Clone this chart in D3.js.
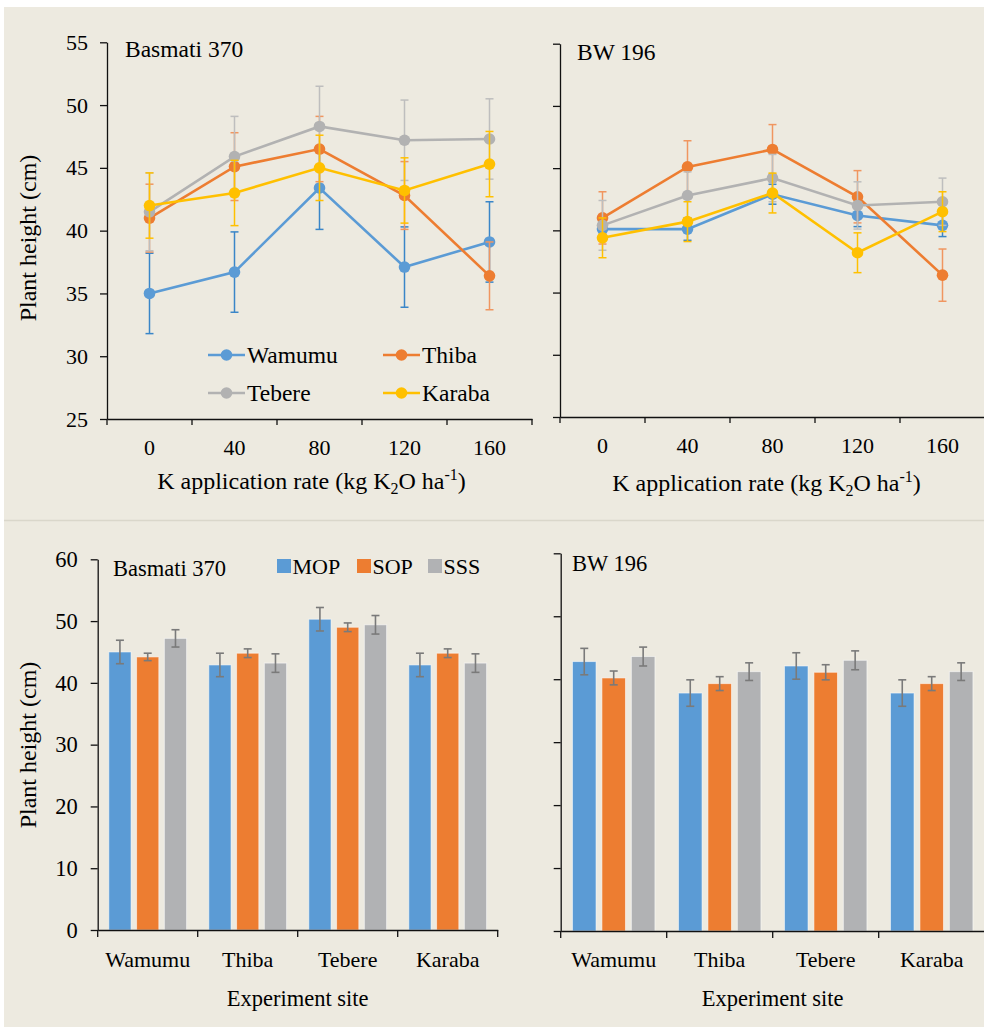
<!DOCTYPE html>
<html>
<head>
<meta charset="utf-8">
<script src="https://cdn.jsdelivr.net/npm/d3@7"></script>
<style>
  body { margin: 0; background: #fff; }
  text { font-family: "Liberation Serif", "Times New Roman", serif; fill: #000; }
</style>
</head>
<body>
<svg id="chart" width="984" height="1027"></svg>
<script>
// categories
const rates = ['0', '40', '80', '120', '160']
const sites = ['Wamumu', 'Thiba', 'Tebere', 'Karaba']
const fertilizers = ['MOP', 'SOP', 'SSS']
const yTicksTop = [25, 30, 35, 40, 45, 50, 55]
const yTicksBottom = [0, 10, 20, 30, 40, 50, 60]

// Basmati 370, plant height by K rate (cm) and error
const basWamumu = [35.0, 36.7, 43.4, 37.1, 39.1]
const basWamumuErr = [3.2, 3.2, 3.3, 3.2, 3.2]
const basThiba = [41.0, 45.1, 46.5, 42.8, 36.4]
const basThibaErr = [2.7, 2.7, 2.6, 2.7, 2.7]
const basTebere = [41.5, 45.9, 48.3, 47.2, 47.3]
const basTebereErr = [3.1, 3.2, 3.2, 3.2, 3.2]
const basKaraba = [42.0, 43.0, 45.0, 43.2, 45.3]
const basKarabaErr = [2.6, 2.6, 2.6, 2.6, 2.6]

// BW 196, plant height by K rate (cm) and error
const bwWamumu = [40.1, 40.1, 42.9, 41.2, 40.4]
const bwWamumuErr = [0.9, 0.9, 0.8, 0.9, 0.9]
const bwThiba = [41.0, 45.1, 46.5, 42.7, 36.4]
const bwThibaErr = [2.1, 2.1, 2.0, 2.1, 2.1]
const bwTebere = [40.4, 42.8, 44.2, 42.0, 42.3]
const bwTebereErr = [2.0, 1.9, 1.9, 1.9, 1.9]
const bwKaraba = [39.4, 40.7, 43.0, 38.2, 41.5]
const bwKarabaErr = [1.6, 1.6, 1.6, 1.6, 1.6]

// plant height by site and fertilizer source
const basMOP = [45.0, 42.9, 50.3, 42.9]
const basMOPErr = [1.9, 1.9, 1.9, 1.9]
const basSOP = [44.2, 44.8, 49.0, 44.8]
const basSOPErr = [0.6, 0.7, 0.7, 0.7]
const basSSS = [47.2, 43.2, 49.4, 43.2]
const basSSSErr = [1.4, 1.5, 1.5, 1.5]
const bwMOP = [42.8, 37.8, 42.1, 37.8]
const bwMOPErr = [2.1, 2.1, 2.1, 2.1]
const bwSOP = [40.2, 39.3, 41.1, 39.3]
const bwSOPErr = [1.1, 1.1, 1.2, 1.1]
const bwSSS = [43.6, 41.2, 43.0, 41.2]
const bwSSSErr = [1.5, 1.4, 1.5, 1.4]

const siteColors = { Wamumu: '#5B9BD5', Thiba: '#ED7D31', Tebere: '#B2B2B2', Karaba: '#FFC000' }
const siteErrColors = { Wamumu: '#3A86C8', Thiba: '#F09660', Tebere: '#BEBEBE', Karaba: '#FFC000' }
const fertColors = { MOP: '#5B9BD5', SOP: '#ED7D31', SSS: '#B1B2B4' }

let svg = d3.select('#chart')

// background panels
svg.append('rect').attr('x', 4).attr('y', 7).attr('width', 980).attr('height', 1020).attr('fill', '#EDEAE0')
svg.append('line').attr('x1', 4).attr('x2', 984).attr('y1', 520.5).attr('y2', 520.5)
  .attr('stroke', '#DAD7CB').attr('stroke-width', 1.5)

function styleAxis(sel) {
  sel.selectAll('path, line').attr('stroke', '#111').attr('stroke-width', 1.3)
  sel.selectAll('text').attr('fill', '#000')
}

function lineChart(opt) {
  let g = svg.append('g')
  let x = d3.scaleBand().domain(rates).range([opt.x0, opt.x1])
  let y = d3.scaleLinear().domain([25, 55]).range([opt.y0, opt.y1])
  let bw = x.bandwidth()

  let yAxis = d3.axisLeft(y).tickValues(yTicksTop).tickSize(7).tickSizeOuter(0).tickPadding(12)
  if (!opt.labels) yAxis.tickFormat('')
  g.append('g').attr('transform', `translate(${opt.x0},0)`).call(yAxis)
    .call(styleAxis).selectAll('text').attr('font-size', 22)

  let xAxis = d3.axisBottom(x).tickSize(0).tickSizeOuter(0).tickPadding(opt.xPad)
  let xg = g.append('g').attr('transform', `translate(0,${opt.y0})`).call(xAxis).call(styleAxis)
  xg.selectAll('text').attr('font-size', 22).attr('dy', null).attr('y', 36)
  // ticks between categories
  let bounds = rates.map(r => x(r)).concat([opt.x1])
  xg.selectAll('line.bound').data(bounds).enter().append('line')
    .attr('x1', d => d).attr('x2', d => d).attr('y1', 0).attr('y2', 6)
    .attr('stroke', '#111').attr('stroke-width', 1.3)

  let line = d3.line().x((d, i) => x(rates[i]) + bw / 2).y(d => y(d))

  opt.series.forEach(s => {
    let sg = g.append('g')
    let errs = s.values.map((v, i) => ({ i: i, v: v, e: s.err[i] }))
    let eb = sg.selectAll('g.err').data(errs).enter().append('g')
      .attr('stroke', siteErrColors[s.name]).attr('stroke-width', 1.5)
    eb.append('line')
      .attr('x1', d => x(rates[d.i]) + bw / 2).attr('x2', d => x(rates[d.i]) + bw / 2)
      .attr('y1', d => y(d.v - d.e)).attr('y2', d => y(d.v + d.e))
    eb.append('line')
      .attr('x1', d => x(rates[d.i]) + bw / 2 - 4).attr('x2', d => x(rates[d.i]) + bw / 2 + 4)
      .attr('y1', d => y(d.v + d.e)).attr('y2', d => y(d.v + d.e))
    eb.append('line')
      .attr('x1', d => x(rates[d.i]) + bw / 2 - 4).attr('x2', d => x(rates[d.i]) + bw / 2 + 4)
      .attr('y1', d => y(d.v - d.e)).attr('y2', d => y(d.v - d.e))

    sg.append('path').datum(s.values)
      .attr('d', line).attr('fill', 'none')
      .attr('stroke', siteColors[s.name]).attr('stroke-width', 2.6)
    sg.selectAll('circle').data(s.values).enter().append('circle')
      .attr('cx', (d, i) => x(rates[i]) + bw / 2).attr('cy', d => y(d))
      .attr('r', 5.8).attr('fill', siteColors[s.name])
  })

  g.append('text').attr('x', opt.titleX).attr('y', opt.titleY)
    .attr('font-size', 23.5).text(opt.title)

  let xt = g.append('text').attr('x', (opt.x0 + opt.x1) / 2 + opt.xTitleShift).attr('y', opt.xTitleY)
    .attr('text-anchor', 'middle').attr('font-size', 24)
  xt.append('tspan').text('K application rate (kg K')
  xt.append('tspan').attr('font-size', 16).attr('dy', 5).text('2')
  xt.append('tspan').attr('dy', -5).text('O ha')
  xt.append('tspan').attr('font-size', 16).attr('dy', -9).text('-1')
  xt.append('tspan').attr('dy', 9).text(')')
  return { x: x, y: y }
}

function barChart(opt) {
  let g = svg.append('g')
  let x = d3.scaleBand().domain(sites).range([opt.x0, opt.x1])
  let xi = d3.scaleBand().domain(fertilizers).range([0, x.bandwidth()]).paddingInner(0.2).paddingOuter(0.4)
  let y = d3.scaleLinear().domain([0, 60]).range([opt.y0, opt.y1])

  let yAxis = d3.axisLeft(y).tickValues(yTicksBottom).tickSize(7).tickSizeOuter(0).tickPadding(13)
  if (!opt.labels) yAxis.tickFormat('')
  g.append('g').attr('transform', `translate(${opt.x0},0)`).call(yAxis)
    .call(styleAxis).selectAll('text').attr('font-size', 22.5)

  opt.series.forEach(s => {
    let rows = s.values.map((v, i) => ({ site: sites[i], v: v, e: s.err[i] }))
    g.selectAll(null).data(rows).enter().append('rect')
      .attr('x', d => x(d.site) + xi(s.name)).attr('width', xi.bandwidth())
      .attr('y', d => y(d.v)).attr('height', d => opt.y0 - y(d.v))
      .attr('fill', fertColors[s.name])
      .attr('stroke', 'rgba(255,255,255,0.55)').attr('stroke-width', 1)
    let eb = g.selectAll(null).data(rows).enter().append('g')
      .attr('stroke', '#7A7A7A').attr('stroke-width', 1.6)
    let cx = d => x(d.site) + xi(s.name) + xi.bandwidth() / 2
    eb.append('line').attr('x1', cx).attr('x2', cx)
      .attr('y1', d => y(d.v - d.e)).attr('y2', d => y(d.v + d.e))
    eb.append('line').attr('x1', d => cx(d) - 4).attr('x2', d => cx(d) + 4)
      .attr('y1', d => y(d.v + d.e)).attr('y2', d => y(d.v + d.e))
    eb.append('line').attr('x1', d => cx(d) - 4).attr('x2', d => cx(d) + 4)
      .attr('y1', d => y(d.v - d.e)).attr('y2', d => y(d.v - d.e))
  })

  let xAxis = d3.axisBottom(x).tickSize(0).tickSizeOuter(0)
  let xg = g.append('g').attr('transform', `translate(0,${opt.y0})`).call(xAxis).call(styleAxis)
  xg.selectAll('text').attr('font-size', 22).attr('dy', null).attr('y', 966.5 - opt.y0)
  let bounds = sites.map(s => x(s)).concat([opt.x1])
  xg.selectAll('line.bound').data(bounds).enter().append('line')
    .attr('x1', d => d).attr('x2', d => d).attr('y1', 0).attr('y2', 7)
    .attr('stroke', '#111').attr('stroke-width', 1.3)

  g.append('text').attr('x', opt.titleX).attr('y', opt.titleY)
    .attr('font-size', 22.5).text(opt.title)
  g.append('text').attr('x', (opt.x0 + opt.x1) / 2).attr('y', 1006)
    .attr('text-anchor', 'middle').attr('font-size', 22.5).text('Experiment site')
  return { x: x, y: y }
}

lineChart({
  x0: 107, x1: 532, y0: 419, y1: 42.3, labels: true, xPad: 21,
  title: 'Basmati 370', titleX: 125, titleY: 57,
  xTitleY: 489, xTitleShift: -8,
  series: [
    { name: 'Wamumu', values: basWamumu, err: basWamumuErr },
    { name: 'Thiba', values: basThiba, err: basThibaErr },
    { name: 'Tebere', values: basTebere, err: basTebereErr },
    { name: 'Karaba', values: basKaraba, err: basKarabaErr }
  ]
})

lineChart({
  x0: 560, x1: 985, y0: 417, y1: 43.7, labels: false, xPad: 21,
  title: 'BW 196', titleX: 577, titleY: 60,
  xTitleY: 491, xTitleShift: -6,
  series: [
    { name: 'Wamumu', values: bwWamumu, err: bwWamumuErr },
    { name: 'Thiba', values: bwThiba, err: bwThibaErr },
    { name: 'Tebere', values: bwTebere, err: bwTebereErr },
    { name: 'Karaba', values: bwKaraba, err: bwKarabaErr }
  ]
})

// legend for the line charts
let legendItems = [
  { name: 'Wamumu', x: 208, y: 355 },
  { name: 'Thiba', x: 383, y: 355 },
  { name: 'Tebere', x: 208, y: 393 },
  { name: 'Karaba', x: 383, y: 393 }
]
let lg = svg.append('g').selectAll('g').data(legendItems).enter().append('g')
  .attr('transform', d => `translate(${d.x},${d.y})`)
lg.append('line').attr('x1', 0).attr('x2', 37).attr('y1', 0).attr('y2', 0)
  .attr('stroke', d => siteColors[d.name]).attr('stroke-width', 2.6)
lg.append('circle').attr('cx', 18.5).attr('cy', 0).attr('r', 5.8).attr('fill', d => siteColors[d.name])
lg.append('text').attr('x', 39).attr('y', 7.5).attr('font-size', 23.5).text(d => d.name)

barChart({
  x0: 97.7, x1: 497.7, y0: 930, y1: 559.3, labels: true,
  title: 'Basmati 370', titleX: 113, titleY: 576,
  series: [
    { name: 'MOP', values: basMOP, err: basMOPErr },
    { name: 'SOP', values: basSOP, err: basSOPErr },
    { name: 'SSS', values: basSSS, err: basSSSErr }
  ]
})

barChart({
  x0: 560.7, x1: 984.7, y0: 931, y1: 553.3, labels: false,
  title: 'BW 196', titleX: 572, titleY: 571,
  series: [
    { name: 'MOP', values: bwMOP, err: bwMOPErr },
    { name: 'SOP', values: bwSOP, err: bwSOPErr },
    { name: 'SSS', values: bwSSS, err: bwSSSErr }
  ]
})

// legend for the bar charts
let barLegend = [
  { name: 'MOP', x: 277 },
  { name: 'SOP', x: 357 },
  { name: 'SSS', x: 428 }
]
let bl = svg.append('g').selectAll('g').data(barLegend).enter().append('g')
  .attr('transform', d => `translate(${d.x},559)`)
bl.append('rect').attr('width', 14).attr('height', 14).attr('fill', d => fertColors[d.name])
bl.append('text').attr('x', 15.5).attr('y', 15).attr('font-size', 22).text(d => d.name)

// y axis titles
svg.append('text').attr('transform', 'translate(36,238) rotate(-90)')
  .attr('text-anchor', 'middle').attr('font-size', 24).text('Plant height (cm)')
svg.append('text').attr('transform', 'translate(36,745) rotate(-90)')
  .attr('text-anchor', 'middle').attr('font-size', 24).text('Plant height (cm)')
</script>
</body>
</html>
